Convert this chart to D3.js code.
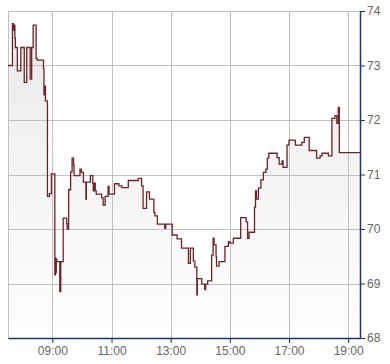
<!DOCTYPE html>
<html>
<head>
<meta charset="utf-8">
<script src="https://cdn.jsdelivr.net/npm/d3@7"></script>
<style>
  body { margin: 0; background: #fff; }
  svg { display: block; font-family: "Liberation Sans", Arial, sans-serif; }
</style>
</head>
<body>
<svg id="chart" width="390" height="364"></svg>
<script>
// intraday price, step changes (time, value)
const times = [
  "07:30","07:39","07:41","07:43","07:44","07:45","07:49","07:56","08:03","08:08",
  "08:15","08:18","08:21","08:27","08:29","08:42","08:43","08:44","08:46","08:50",
  "08:54","08:58","09:05","09:06","09:07","09:08","09:09","09:12","09:15","09:17",
  "09:22","09:29","09:30","09:33","09:37","09:40","09:43","09:44","09:56","09:59",
  "10:03","10:08","10:09","10:11","10:17","10:22","10:23","10:25","10:27","10:29",
  "10:40","10:43","10:47","10:53","10:55","11:00","11:06","11:15","11:21","11:34",
  "11:54","12:01","12:04","12:11","12:17","12:26","12:28","12:33","12:48","12:50",
  "12:53","13:03","13:13","13:22","13:36","13:40","13:42","13:46","13:49","13:53",
  "13:54","13:56","14:03","14:09","14:11","14:15","14:23","14:26","14:28","14:32",
  "14:33","14:38","14:41","14:50","14:57","15:00","15:07","15:22","15:33","15:36",
  "15:39","15:50","15:52","15:54","15:58","16:03","16:08","16:13","16:16","16:19",
  "16:36","16:40","16:46","16:48","16:56","17:00","17:13","17:26","17:31","17:41",
  "17:56","18:03","18:07","18:20","18:27","18:33","18:37","18:40","18:42","19:24"
];
const prices = [
  73.00,73.77,73.65,73.74,73.50,73.33,72.90,73.33,72.69,73.33,
  72.75,73.33,73.74,73.13,73.10,72.94,72.46,72.62,72.35,70.60,
  70.65,71.01,69.16,69.47,69.20,69.44,69.40,69.40,68.85,69.40,
  70.20,70.10,70.00,70.72,71.05,71.30,71.17,70.98,71.10,71.04,
  70.86,70.55,70.86,70.86,70.98,70.84,70.70,70.84,70.70,70.64,
  70.57,70.44,70.60,70.78,70.64,70.64,70.83,70.79,70.76,70.89,
  70.93,70.79,70.38,70.68,70.55,70.30,70.24,70.09,70.01,70.09,
  70.09,69.89,69.82,69.65,69.37,69.65,69.65,69.41,69.30,68.79,
  69.09,69.09,68.99,68.89,68.99,69.05,69.52,69.83,69.71,69.49,
  69.32,69.40,69.40,69.68,69.77,69.74,69.83,70.21,70.13,69.83,
  69.94,70.40,70.70,70.55,70.75,70.90,71.04,71.10,71.30,71.39,
  71.31,71.19,71.25,71.13,71.54,71.63,71.54,71.59,71.68,71.44,
  71.30,71.34,71.39,71.34,72.03,72.08,71.94,72.23,71.40,71.40
];
const xTickLabels = ["09:00","11:00","13:00","15:00","17:00","19:00"];
const yTickValues = [68, 69, 70, 71, 72, 73, 74];
const xDomain = ["07:30", "19:24"];
const yDomain = [68, 74];

const parseTime = d3.timeParse("%H:%M");
const data = times.map((t, i) => ({ t: parseTime(t), v: prices[i] }));

const svg = d3.select("#chart");
const margin = { top: 11, right: 30, bottom: 26, left: 8 };
const width = 390 - margin.left - margin.right;
const height = 364 - margin.top - margin.bottom;

const x = d3.scaleTime().domain(xDomain.map(parseTime)).range([0, width]);
const y = d3.scaleLinear().domain(yDomain).range([height, 0]);

const g = svg.append("g").attr("transform", `translate(${margin.left},${margin.top})`);

// gradient under the line
const grad = svg.append("defs").append("linearGradient")
  .attr("id", "fillgrad")
  .attr("gradientUnits", "userSpaceOnUse")
  .attr("x1", 0).attr("y1", 0).attr("x2", 0).attr("y2", height);
grad.append("stop").attr("offset", "0%").attr("stop-color", "#e9e9e9");
grad.append("stop").attr("offset", "100%").attr("stop-color", "#ffffff");

g.append("path")
  .datum(data)
  .attr("fill", "url(#fillgrad)")
  .attr("d", d3.area().curve(d3.curveStepAfter)
    .x(d => x(d.t)).y0(height).y1(d => y(d.v)));

// grid
const grid = g.append("g").attr("stroke", "#c0c0c0").attr("stroke-width", 1);
grid.selectAll(".hy").data(yTickValues).join("line")
  .attr("x1", 0).attr("x2", width)
  .attr("y1", d => Math.round(y(d)) + 0.5).attr("y2", d => Math.round(y(d)) + 0.5);
const xTickDates = xTickLabels.map(parseTime);
grid.selectAll(".vx").data(xTickDates).join("line")
  .attr("y1", 0).attr("y2", height)
  .attr("x1", d => Math.round(x(d)) + 0.5).attr("x2", d => Math.round(x(d)) + 0.5);
grid.append("line").attr("x1", 0.5).attr("x2", 0.5).attr("y1", 0).attr("y2", height);

// price line
g.append("path")
  .datum(data)
  .attr("fill", "none")
  .attr("stroke", "#6b2529")
  .attr("stroke-width", 1.3)
  .attr("d", d3.line().curve(d3.curveStepAfter).x(d => x(d.t)).y(d => y(d.v)));

// axes
const axisColor = "#1c3766";
const xAxis = g.append("g")
  .attr("transform", `translate(0,${height})`)
  .call(d3.axisBottom(x).tickValues(xTickDates).tickFormat(d3.timeFormat("%H:%M"))
    .tickSize(5).tickSizeOuter(0).tickPadding(3));
const yAxis = g.append("g")
  .attr("transform", `translate(${width},0)`)
  .call(d3.axisRight(y).tickValues(yTickValues).tickFormat(d3.format("d"))
    .tickSize(5).tickSizeOuter(0).tickPadding(2));

[xAxis, yAxis].forEach(a => {
  a.select(".domain").attr("stroke", axisColor).attr("stroke-width", 1.5);
  a.selectAll(".tick line").attr("stroke", axisColor);
  a.selectAll(".tick text").attr("fill", "#666").attr("font-size", 12)
    .attr("font-family", "Liberation Sans, Arial, sans-serif");
});
</script>
</body>
</html>
